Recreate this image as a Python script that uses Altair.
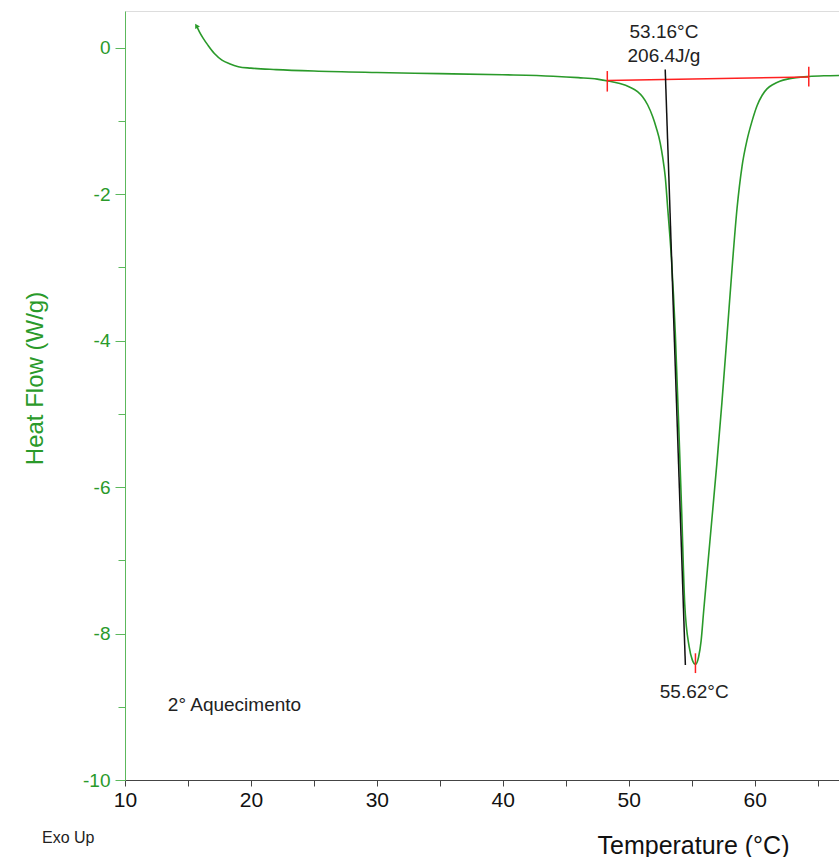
import altair as alt
import pandas as pd

# DSC curve (Temperature °C, Heat Flow W/g)
temp = [15.7, 15.9, 16.2, 16.6, 17.1, 17.7, 18.3, 19.0, 20.0, 22.0, 25.0, 30.0, 35.0,
        40.0, 44.0, 46.0, 47.5, 48.5, 49.3, 50.1, 50.7, 51.1, 51.5, 51.9, 52.2, 52.5,
        52.7, 52.9, 53.1, 53.4, 53.7, 54.0, 54.2, 54.45, 54.8, 55.05, 55.3, 55.55,
        55.75, 55.95, 56.25, 56.6, 57.0, 57.4, 57.8, 58.25, 58.6, 59.0, 59.4, 59.8,
        60.2, 60.6, 61.0, 61.5, 62.0, 62.6, 63.3, 64.3, 65.5, 66.7]
heat = [0.29, 0.22, 0.13, 0.03, -0.08, -0.17, -0.22, -0.26, -0.28, -0.30, -0.32, -0.34,
        -0.355, -0.37, -0.39, -0.41, -0.43, -0.46, -0.49, -0.54, -0.60, -0.67, -0.78,
        -0.94, -1.10, -1.30, -1.50, -1.76, -2.20, -2.90, -3.90, -5.30, -6.30, -7.60,
        -8.18, -8.36, -8.42, -8.32, -8.10, -7.70, -7.12, -6.45, -5.68, -4.85, -3.95,
        -2.92, -2.20, -1.62, -1.26, -1.00, -0.79, -0.65, -0.56, -0.50, -0.46, -0.43,
        -0.41, -0.395, -0.385, -0.38]

# integration baseline (red) and onset tangent (black)
base_x = [48.3, 64.3]
base_y = [-0.45, -0.40]
tan_x = [52.9, 54.5]
tan_y = [-0.30, -8.43]

# red limit/peak markers
mark_x = [48.3, 64.3, 55.3]
mark_y1 = [-0.32, -0.26, -8.27]
mark_y2 = [-0.60, -0.53, -8.54]

# annotations
ann_x = [52.8, 52.8, 55.2]
ann_y = [0.22, -0.11, -8.8]
ann_text = ["53.16°C", "206.4J/g", "55.62°C"]

green = "#2a9a2a"
axis_green = "#5cb85c"
font = "Liberation Sans"

curve = pd.DataFrame({"T": temp, "HF": heat})
base = pd.DataFrame({"T": base_x, "HF": base_y})
tang = pd.DataFrame({"T": tan_x, "HF": tan_y})
marks = pd.DataFrame({"T": mark_x, "y1": mark_y1, "y2": mark_y2})
ann = pd.DataFrame({"T": ann_x, "HF": ann_y, "txt": ann_text})
start = pd.DataFrame({"T": [temp[0]], "HF": [heat[0]]})

xvals = [10 + 5 * i for i in range(12)]
yvals = [-10 + 0.5 * i for i in range(22)]

xscale = alt.Scale(domain=[10, 66.7], nice=False, zero=False)
yscale = alt.Scale(domain=[-10, 0.5], nice=False, zero=False)

xaxis = alt.Axis(
    values=xvals, grid=False, title="Temperature (°C)", labelFlush=False,
    labelExpr="datum.value % 10 === 0 ? '' + datum.value : ''",
    domainColor="#444", tickColor="#444", tickSize=6, labelColor="#111",
    labelFont=font, labelFontSize=21, labelPadding=3,
    titleFont=font, titleFontSize=25, titleFontWeight="normal", titleColor="#111",
    titleX=568, titleY=73, titleAlign="center", titleBaseline="alphabetic",
)
yaxis = alt.Axis(
    values=yvals, grid=False, title="Heat Flow (W/g)", labelFlush=False,
    labelExpr="datum.value % 2 === 0 ? '' + datum.value : ''",
    domainColor=axis_green, tickColor=axis_green,
    tickSize={"condition": {"test": "datum.value % 2 === 0", "value": 10}, "value": 7},
    labelColor=green, labelFont=font, labelFontSize=19, labelPadding=5,
    titleFont=font, titleFontSize=24, titleFontWeight="normal", titleColor=green,
    titleX=-83, titleY=367, titleAlign="center", titleBaseline="alphabetic", titleAngle=270,
)

line = alt.Chart(curve).mark_line(color=green, strokeWidth=1.6, interpolate="monotone").encode(
    x=alt.X("T:Q", scale=xscale, axis=xaxis),
    y=alt.Y("HF:Q", scale=yscale, axis=yaxis),
)
startpt = alt.Chart(start).mark_point(shape="triangle", filled=True, size=30, angle=330,
                                      color=green, opacity=1).encode(x="T:Q", y="HF:Q")
baseline = alt.Chart(base).mark_line(color="#ff2020", strokeWidth=1.5).encode(x="T:Q", y="HF:Q")
tangent = alt.Chart(tang).mark_line(color="#111111", strokeWidth=1.5).encode(x="T:Q", y="HF:Q")
ticks = alt.Chart(marks).mark_rule(color="#ff2020", strokeWidth=1.5).encode(
    x="T:Q", y="y1:Q", y2="y2:Q")
labels = alt.Chart(ann).mark_text(font=font, fontSize=19, color="#222", align="center",
                                  baseline="middle").encode(x="T:Q", y="HF:Q", text="txt:N")
note = alt.Chart(pd.DataFrame({"T": [13.4], "HF": [-8.97], "txt": ["2° Aquecimento"]})).mark_text(
    font=font, fontSize=19, color="#222", align="left", baseline="middle"
).encode(x="T:Q", y="HF:Q", text="txt:N")
exo = alt.Chart(pd.DataFrame({"txt": ["Exo Up"]})).mark_text(
    font=font, fontSize=16, color="#222", align="left", baseline="middle"
).encode(x=alt.value(-83), y=alt.value(827), text="txt:N")

chart = alt.layer(line, startpt, baseline, tangent, ticks, labels, note, exo).properties(
    width=714, height=769,
    autosize=alt.AutoSizeParams(type="none"),
    padding={"left": 125, "top": 11, "right": 0, "bottom": 77},
).configure_view(stroke=None).configure(background="white")

chart.save("out.html", embed_options={"renderer": "svg", "actions": False})
